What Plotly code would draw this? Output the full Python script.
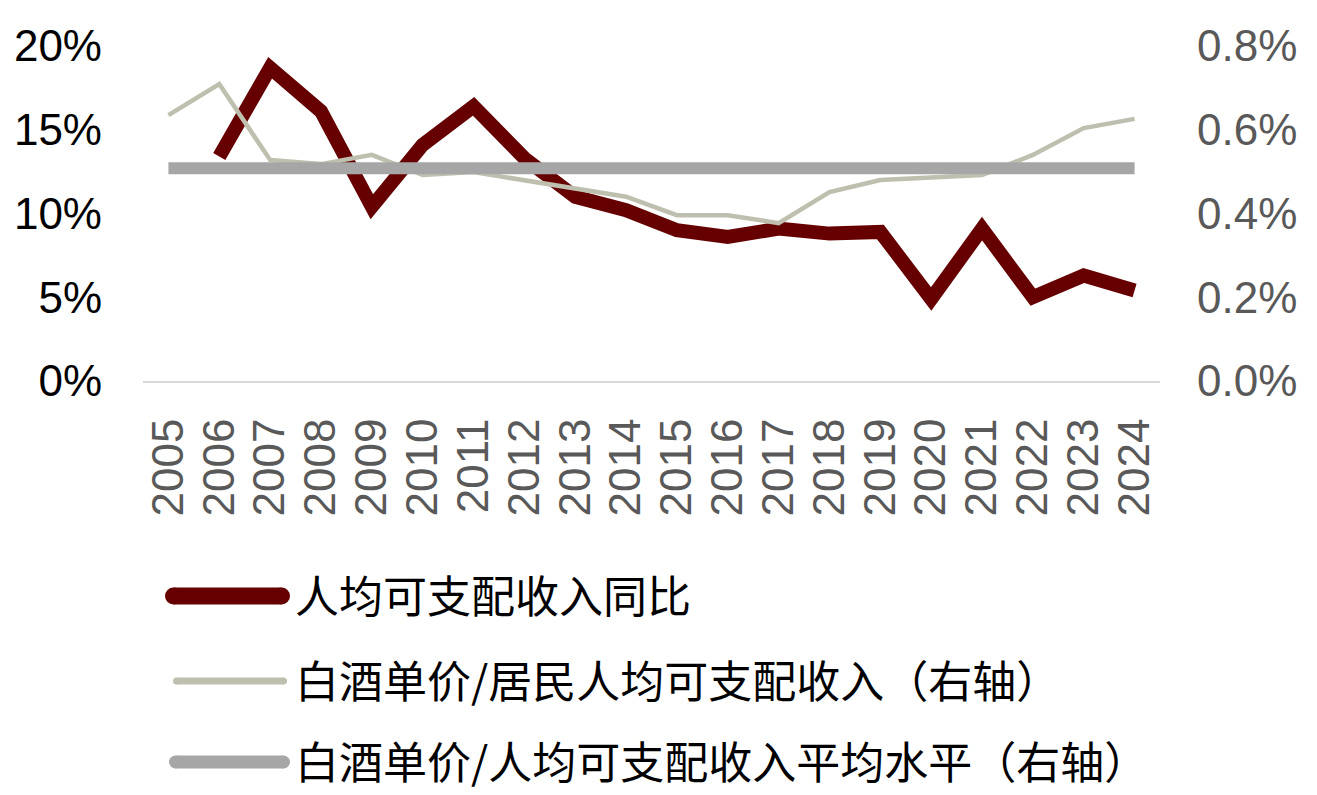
import plotly.graph_objects as go

years = [str(y) for y in range(2005, 2025)]
income_yoy = [None, 13.4, 18.7, 16.1, 10.4, 14.1, 16.4, 13.3, 11.0, 10.2,
              9.0, 8.6, 9.1, 8.8, 8.9, 4.9, 9.1, 5.0, 6.3, 5.4]
liquor_ratio = [0.635, 0.709, 0.528, 0.518, 0.540, 0.492, 0.499, 0.480, 0.461, 0.440,
                0.396, 0.396, 0.377, 0.451, 0.480, 0.487, 0.492, 0.540, 0.604, 0.626]
liquor_avg = [0.508] * len(years)

names = ["人均可支配收入同比", "白酒单价/居民人均可支配收入（右轴）", "白酒单价/人均可支配收入平均水平（右轴）"]
colors = ["#660000", "#BFBFAF", "#A6A6A6"]
widths = [14, 4.5, 12]

# page body has an 8px margin: place the figure so the plot area lands where wanted
OFF = 8
VW, VH = 1317, 795
PL, PR, PT, PB = 143, 1160, 46, 381   # plot area in viewport pixels
W, H = VW - OFF, VH - OFF
L, T = PL - OFF, PT - OFF
R, B = VW - PR, VH - PB
pw, ph = PR - PL, PB - PT


def px(x):
    return (x - PL) / pw


def py(y):
    return (PB - y) / ph


fig = go.Figure()
fig.add_trace(go.Scatter(x=years, y=income_yoy, mode="lines", name=names[0],
                         line=dict(color=colors[0], width=widths[0]), yaxis="y"))
fig.add_trace(go.Scatter(x=years, y=liquor_ratio, mode="lines", name=names[1],
                         line=dict(color=colors[1], width=widths[1]), yaxis="y2"))
fig.add_trace(go.Scatter(x=years, y=liquor_avg, mode="lines", name=names[2],
                         line=dict(color=colors[2], width=widths[2]), yaxis="y2"))

num_font = "Liberation Sans, Arial, sans-serif"
cjk_font = "Noto Sans CJK SC, sans-serif"

# custom legend (long line symbols with round ends)
leg_y = [596, 681, 762]
leg_x0 = [165, 173, 169]
leg_x1 = [290, 287, 290]
leg_w = [17, 7, 13]
shapes, annos = [], []
for i in range(3):
    r = leg_w[i] / 2
    a, b = leg_x0[i] + r, leg_x1[i] - r
    yy = py(leg_y[i])
    shapes.append(dict(type="line", xref="paper", yref="paper", layer="above",
                       x0=px(a), x1=px(b), y0=yy, y1=yy,
                       line=dict(color=colors[i], width=leg_w[i])))
    for cx in (a, b):
        shapes.append(dict(type="circle", xref="paper", yref="paper", layer="above",
                           xsizemode="pixel", ysizemode="pixel",
                           xanchor=px(cx), yanchor=yy,
                           x0=-r, x1=r, y0=-r, y1=r,
                           fillcolor=colors[i], line=dict(width=0)))
    annos.append(dict(xref="paper", yref="paper", x=px(293), y=py(leg_y[i] - 2),
                      xanchor="left", yanchor="middle", showarrow=False,
                      text=names[i], font=dict(family=cjk_font, size=44, color="#000000")))

fig.update_layout(
    width=W, height=H,
    margin=dict(l=L, r=R, t=T, b=B, autoexpand=False),
    plot_bgcolor="white", paper_bgcolor="white",
    showlegend=False,
    xaxis=dict(type="category", range=[-0.5, len(years) - 0.5], tickangle=-90,
               tickmode="linear", dtick=1,
               showgrid=False, showline=True, automargin=False,
               linecolor="#D9D9D9", linewidth=2, ticks="", ticklabelstandoff=18,
               tickfont=dict(family=num_font, size=44, color="#595959")),
    yaxis=dict(range=[0, 20], dtick=5, ticksuffix="%", showgrid=False, zeroline=False,
               ticklabelstandoff=40, automargin=False,
               tickfont=dict(family=num_font, size=44, color="#000000")),
    yaxis2=dict(range=[0, 0.8], dtick=0.2, tickformat=".1f", ticksuffix="%",
                overlaying="y", side="right", showgrid=False, zeroline=False,
                ticklabelstandoff=36, automargin=False,
                tickfont=dict(family=num_font, size=44, color="#595959")),
    shapes=shapes, annotations=annos,
)

fig.write_html("out.html")
